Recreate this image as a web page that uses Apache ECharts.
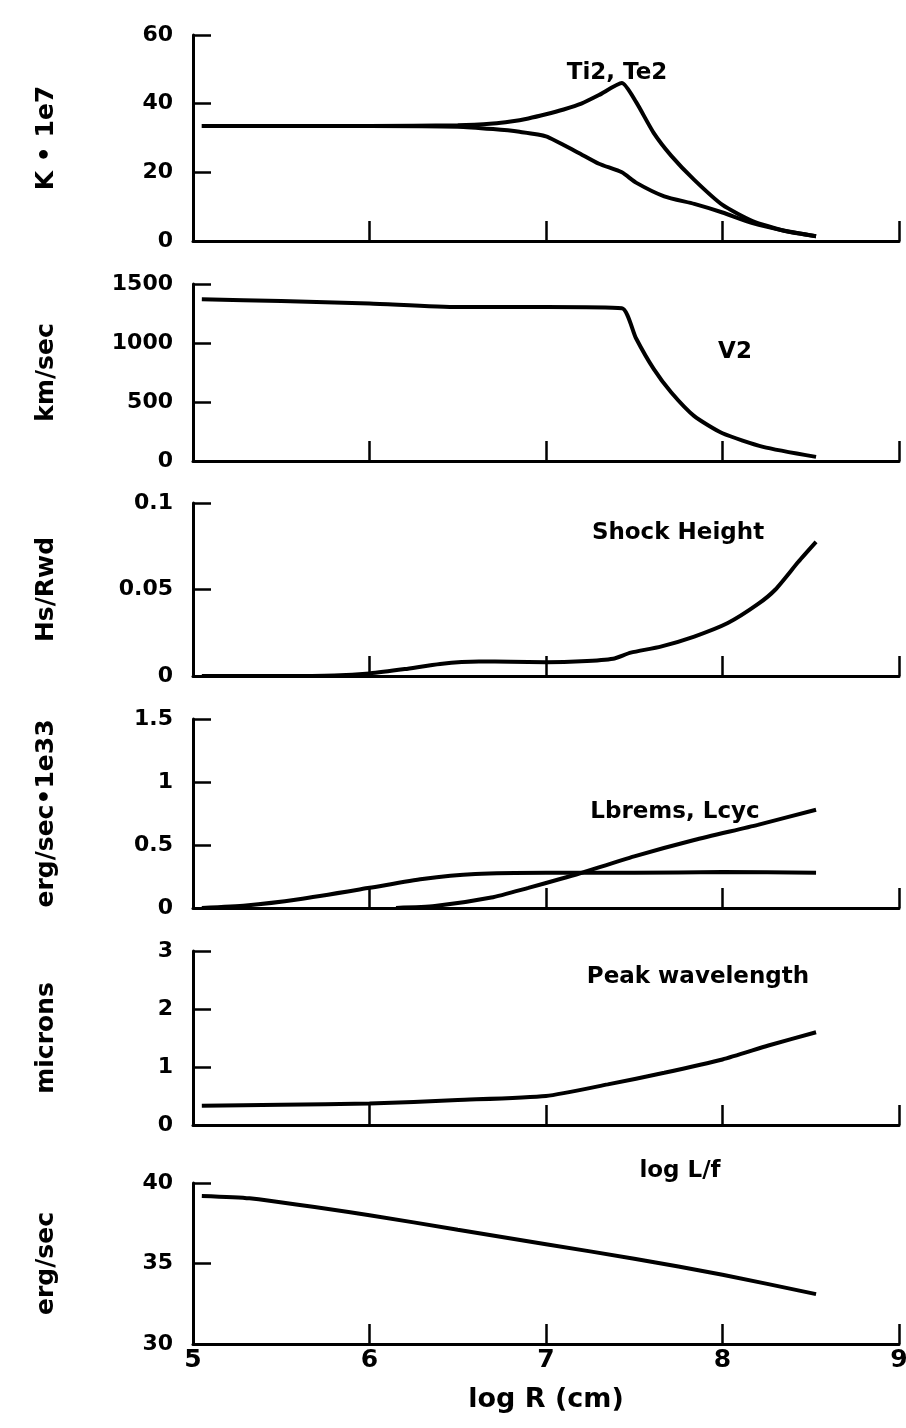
<!DOCTYPE html>
<html>
<head>
<meta charset="utf-8">
<script type="text/javascript" src="https://cdn.jsdelivr.net/npm/echarts@6/dist/echarts.min.js"></script>
<style>
  html, body { margin: 0; padding: 0; background: #fff; }
  #main { width: 906px; height: 1428px; }
</style>
</head>
<body>
<div id="main"></div>
<script type="text/javascript">
	// values, x = log R (cm)
	var tiX = [5.05, 6.0, 6.5, 6.7, 6.8, 6.9, 7.0, 7.1, 7.2, 7.3, 7.43, 7.51, 7.61, 7.71, 7.84, 8.0, 8.17, 8.35, 8.53];
	var ti2 = [33.5, 33.5, 33.7, 34.2, 34.8, 35.7, 36.9, 38.3, 40, 42.5, 46, 40.5, 31.5, 24.8, 17.8, 10.5, 5.8, 3, 1.4];
	var teX = [5.05, 6.0, 6.5, 6.7, 6.85, 7.0, 7.18, 7.3, 7.43, 7.51, 7.67, 7.84, 8.0, 8.17, 8.35, 8.53];
	var te2 = [33.5, 33.5, 33.3, 32.6, 31.8, 30.5, 25.8, 22.5, 20, 17, 13, 10.8, 8.3, 5.2, 3, 1.4];

	var v2X = [5.05, 5.5, 6.0, 6.5, 7.0, 7.43, 7.51, 7.61, 7.71, 7.84, 8.0, 8.23, 8.53];
	var v2 = [1370, 1355, 1335, 1305, 1305, 1295, 1040, 780, 580, 380, 235, 120, 35];

	var shockX = [5.05, 5.5, 5.8, 6.0, 6.2, 6.4, 6.62, 6.8, 7.0, 7.2, 7.38, 7.48, 7.65, 7.84, 8.03, 8.2, 8.3, 8.43, 8.53];
	var shock = [0, 0, 0.0003, 0.0015, 0.004, 0.007, 0.0084, 0.0082, 0.008, 0.0085, 0.010, 0.0135, 0.017, 0.0228, 0.0306, 0.0415, 0.05, 0.066, 0.0775];

	var cycX = [5.05, 5.3, 5.6, 6.0, 6.3, 6.6, 7.0, 7.5, 8.0, 8.53];
	var lcyc = [0, 0.02, 0.07, 0.16, 0.23, 0.27, 0.28, 0.28, 0.285, 0.28];
	var bremX = [6.15, 6.37, 6.69, 6.9, 7.08, 7.18, 7.5, 7.84, 8.2, 8.53];
	var lbrems = [0, 0.015, 0.083, 0.16, 0.23, 0.27, 0.41, 0.54, 0.66, 0.78];

	var peakX = [5.05, 5.5, 6.0, 6.5, 7.0, 7.35, 7.67, 8.0, 8.26, 8.53];
	var peak = [0.33, 0.35, 0.37, 0.43, 0.5, 0.7, 0.9, 1.13, 1.37, 1.6];

	var lfX = [5.05, 5.32, 6.0, 6.5, 7.0, 7.5, 8.0, 8.53];
	var logLf = [39.2, 39.05, 38.0, 37.1, 36.2, 35.3, 34.3, 33.1];

	var yNames = ['K \u2022 1e7', 'km/sec', 'Hs/Rwd', 'erg/sec\u20221e33', 'microns', 'erg/sec'];
	var yMin = [0, 0, 0, 0, 0, 30];
	var yMax = [60, 1500, 0.1, 1.5, 3, 40];
	var yStep = [20, 500, 0.05, 0.5, 1, 5];
	var xTicks = [5, 9, 1];

	function pairs(xs, ys) {
		var out = [];
		for (var i = 0; i < xs.length; i++) out.push([xs[i], ys[i]]);
		return out;
	}

	var font = 'DejaVu Sans';
	var gridTops = [35, 284, 503, 719, 951, 1183];
	var gridHeights = [206, 177, 173, 189, 174, 161];

	var grids = [], xAxes = [], yAxes = [];
	for (var i = 0; i < 6; i++) {
		grids.push({ left: 193, width: 706, top: gridTops[i], height: gridHeights[i], outerBoundsMode: 'none' });
		xAxes.push({
			type: 'value', gridIndex: i,
			min: xTicks[0], max: xTicks[1], interval: xTicks[2],
			axisLine: { lineStyle: { color: '#000', width: 3 } },
			axisTick: { inside: true, length: 20, lineStyle: { color: '#000', width: 2.5 } },
			axisLabel: { show: i == 5, color: '#000', fontFamily: font, fontWeight: 'bold', fontSize: 25, margin: 4 },
			splitLine: { show: false },
			name: i == 5 ? 'log R (cm)' : '',
			nameLocation: 'middle', nameGap: 42,
			nameTextStyle: { color: '#000', fontFamily: font, fontWeight: 'bold', fontSize: 27 }
		});
		yAxes.push({
			type: 'value', gridIndex: i,
			min: yMin[i], max: yMax[i], interval: yStep[i],
			axisLine: { show: true, lineStyle: { color: '#000', width: 3 } },
			axisTick: { show: true, inside: true, length: 18, lineStyle: { color: '#000', width: 2.5 } },
			axisLabel: {
				color: '#000', fontFamily: font, fontWeight: 'bold', fontSize: 22, margin: 20,
				formatter: function (v) { return String(v); }
			},
			splitLine: { show: false },
			name: yNames[i], nameLocation: 'middle', nameRotate: 90, nameGap: 134,
			nameTextStyle: { color: '#000', fontFamily: font, fontWeight: 'bold', fontSize: 25 }
		});
	}

	function line(idx, xs, ys) {
		return {
			type: 'line', xAxisIndex: idx, yAxisIndex: idx,
			data: pairs(xs, ys), showSymbol: false, smooth: 0.2,
			lineStyle: { color: '#000', width: 4 }, silent: true
		};
	}

	function note(x, y, str) {
		return {
			type: 'text', x: x, y: y,
			style: { text: str, fill: '#000', font: 'bold 23px "DejaVu Sans"', textAlign: 'center', textVerticalAlign: 'middle' }
		};
	}

	var myChart = echarts.init(document.getElementById('main'), null, { renderer: 'canvas' });
	var option = {
		backgroundColor: '#fff',
		animation: false,
		grid: grids,
		xAxis: xAxes,
		yAxis: yAxes,
		series: [
			line(0, tiX, ti2), line(0, teX, te2),
			line(1, v2X, v2),
			line(2, shockX, shock),
			line(3, cycX, lcyc), line(3, bremX, lbrems),
			line(4, peakX, peak),
			line(5, lfX, logLf)
		],
		graphic: [
			note(617, 73, 'Ti2, Te2'),
			note(735, 352, 'V2'),
			note(678, 533, 'Shock Height'),
			note(675, 812, 'Lbrems, Lcyc'),
			note(698, 977, 'Peak wavelength'),
			note(680, 1171, 'log L/f')
		]
	};
	myChart.setOption(option);
</script>
</body>
</html>
